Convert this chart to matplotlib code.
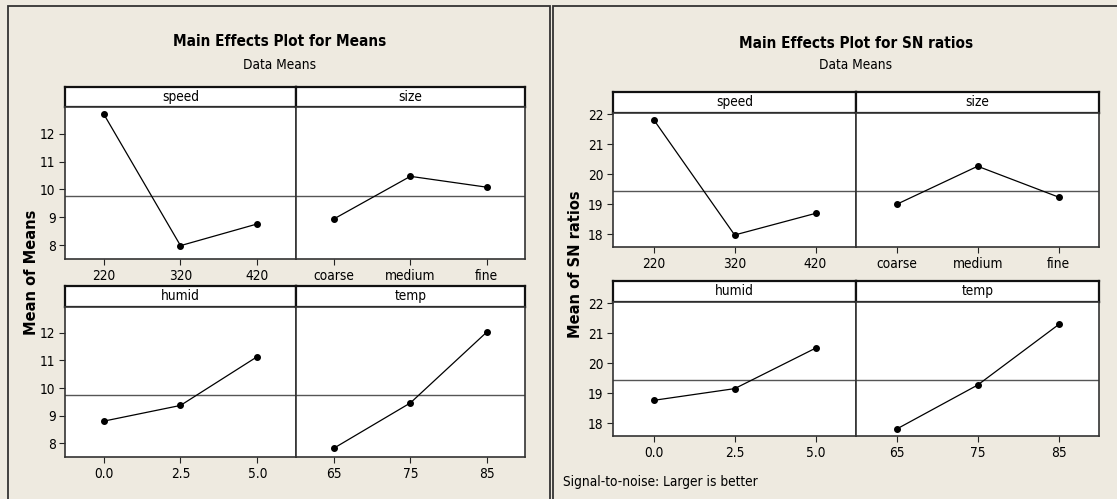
"""
    plot.py
    -------------
    Minitab style main effects plots: means (left) and SN ratios (right).
"""
import numpy as np
import matplotlib
matplotlib.use('Agg')
import matplotlib.pyplot as plt
from matplotlib.patches import Rectangle

# ---- data ----
factors = ['speed', 'size', 'humid', 'temp']
levels = {'speed': ['220', '320', '420'],
          'size': ['coarse', 'medium', 'fine'],
          'humid': ['0.0', '2.5', '5.0'],
          'temp': ['65', '75', '85']}

means_speed = [12.71, 7.98, 8.76]
means_size = [8.94, 10.47, 10.08]
means_humid = [8.80, 9.37, 11.14]
means_temp = [7.82, 9.46, 12.03]
means_grand = 9.76

sn_speed = [21.81, 17.97, 18.69]
sn_size = [18.99, 20.26, 19.23]
sn_humid = [18.76, 19.15, 20.50]
sn_temp = [17.80, 19.27, 21.29]
sn_grand = 19.45

means_yticks = [8, 9, 10, 11, 12]
sn_yticks = [18, 19, 20, 21, 22]

W, H = 1117, 499
BG = '#EEEAE0'
NARROW = ['Liberation Sans Narrow', 'DejaVu Sans']
ST = 'condensed'
FS = 9.8

fig = plt.figure(figsize=(W/100, H/100), dpi=100)
fig.patch.set_facecolor(BG)


def box(x0, y0, x1, y1):
    # pixel box (top-left origin) -> figure fraction
    return [x0/W, 1-y1/H, (x1-x0)/W, (y1-y0)/H]


def panel(x0, x1, ys, yp, yb, name, vals, grand, ylim, yticks, first):
    # strip on top
    st = fig.add_axes(box(x0, ys, x1, yp))
    st.set_xticks([]); st.set_yticks([])
    st.set_facecolor('white')
    for s in st.spines.values():
        s.set_linewidth(1.6); s.set_color('#111111')
    st.text(0.5, 0.5, name, ha='center', va='center', fontsize=FS,
            family=NARROW, stretch=ST, transform=st.transAxes)
    ax = fig.add_axes(box(x0, yp, x1, yb))
    ax.set_facecolor('white')
    x = np.arange(1, 4)
    ax.axhline(grand, color='#555555', lw=1.0, zorder=1)
    ax.plot(x, vals, color='black', lw=0.9, marker='o', ms=4, zorder=3)
    ax.set_xlim(0.5, 3.5)
    ax.set_ylim(*ylim)
    ax.set_xticks(x)
    ax.set_xticklabels(levels[name], fontsize=FS, family=NARROW, stretch=ST)
    if first:
        ax.set_yticks(yticks)
        ax.set_yticklabels([str(t) for t in yticks], fontsize=FS,
                           family=NARROW, stretch=ST)
    else:
        ax.set_yticks([])
    ax.tick_params(direction='out', length=4, width=0.8, pad=3, color='#222222')
    for s in ax.spines.values():
        s.set_linewidth(1.2); s.set_color('#333333')
    return ax


def half(xs, rows, data, grand, ylim, yticks):
    x0, xm, x1 = xs
    k = 0
    for ys, yp, yb in rows:
        for j, (a, b) in enumerate([(x0, xm), (xm, x1)]):
            name = factors[k]
            panel(a, b, ys, yp, yb, name, data[k], grand, ylim, yticks, j == 0)
            k += 1


# left: means
half((65.3, 295.7, 525.0),
     [(86.7, 107.3, 259.0), (286.0, 306.7, 457.0)],
     [means_speed, means_size, means_humid, means_temp],
     means_grand, (7.50, 12.95), means_yticks)

# right: SN ratios
half((613.3, 856.0, 1099.3),
     [(92.0, 112.5, 247.0), (281.0, 301.7, 436.0)],
     [sn_speed, sn_size, sn_humid, sn_temp],
     sn_grand, (17.57, 22.05), sn_yticks)

# outer frames
fig.add_artist(Rectangle((7.7/W, -0.01), (550.2-7.7)/W, 1.01-5.7/H,
                         transform=fig.transFigure, fill=False,
                         ec='#333333', lw=1.3))
fig.add_artist(Rectangle((553.0/W, -0.01), (1130-553.0)/W, 1.01-5.7/H,
                         transform=fig.transFigure, fill=False,
                         ec='#333333', lw=1.3))

# titles
fig.text(280/W, 1-42/H, 'Main Effects Plot for Means', ha='center', va='center',
         fontsize=11, fontweight='bold', family=NARROW, stretch=ST)
fig.text(280/W, 1-65/H, 'Data Means', ha='center', va='center',
         fontsize=FS, family=NARROW, stretch=ST)
fig.text(856/W, 1-43/H, 'Main Effects Plot for SN ratios', ha='center', va='center',
         fontsize=11, fontweight='bold', family=NARROW, stretch=ST)
fig.text(856/W, 1-65/H, 'Data Means', ha='center', va='center',
         fontsize=FS, family=NARROW, stretch=ST)

# y labels
fig.text(32/W, 1-272/H, 'Mean of Means', rotation=90, ha='center', va='center',
         fontsize=10.5, fontweight='bold', family='DejaVu Sans')
fig.text(575/W, 1-264/H, 'Mean of SN ratios', rotation=90, ha='center', va='center',
         fontsize=10.5, fontweight='bold', family='DejaVu Sans')

fig.text(563/W, 1-482/H, 'Signal-to-noise: Larger is better', ha='left', va='center',
         fontsize=FS, family=NARROW, stretch=ST)

fig.savefig('out.png', dpi=100, facecolor=BG)
